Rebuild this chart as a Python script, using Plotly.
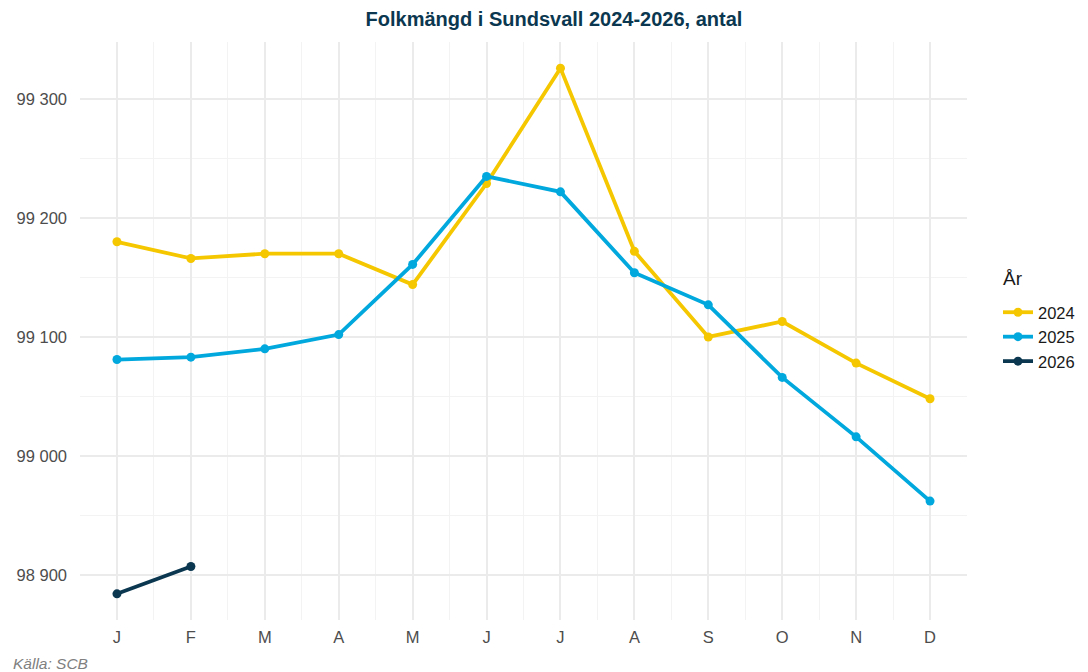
import plotly.graph_objects as go

months = ["J", "F", "M", "A", "M", "J", "J", "A", "S", "O", "N", "D"]
years = ["2024", "2025", "2026"]
v2024 = [99180, 99166, 99170, 99170, 99144, 99229, 99326, 99172, 99100, 99113, 99078, 99048]
v2025 = [99081, 99083, 99090, 99102, 99161, 99235, 99222, 99154, 99127, 99066, 99016, 98962]
v2026 = [98884, 98907]
colors = ["#F5C700", "#00A8DE", "#0B3850"]
y_ticks = [98900, 99000, 99100, 99200, 99300]
y_labels = ["98 900", "99 000", "99 100", "99 200", "99 300"]

# page body has an 8px margin, so the figure is drawn 8px smaller
W, H = 1080, 664
L, R, T, B = 72, 121, 34, 52
PW, PH = W - L - R, H - T - B

fig = go.Figure()
for yr, vals, c in zip(years, [v2024, v2025, v2026], colors):
    fig.add_trace(go.Scatter(
        x=list(range(len(vals))), y=vals, name=yr, mode="lines+markers",
        line=dict(color=c, width=3.8), marker=dict(color=c, size=9),
    ))

fig.update_layout(
    width=W, height=H,
    paper_bgcolor="white", plot_bgcolor="white",
    margin=dict(l=L, r=R, t=T, b=B),
    font=dict(family="Liberation Sans, Arial, sans-serif", color="#4D4D4D"),
    title=dict(text="<b>Folkmängd i Sundsvall 2024-2026, antal</b>",
               xref="container", x=546 / W, xanchor="center",
               y=1 - 11 / H, yanchor="middle", font=dict(size=20, color="#0B3850")),
    legend=dict(xref="container", yref="container", x=990 / W, xanchor="left",
                y=1 - 329 / H, yanchor="middle",
                font=dict(size=16.5, color="#1a1a1a"), tracegroupgap=0, itemwidth=30,
                bgcolor="rgba(0,0,0,0)"),
    showlegend=True,
)
fig.update_xaxes(
    range=[-0.5, 11.5], tickmode="array", tickvals=list(range(12)), ticktext=months,
    showgrid=True, gridcolor="#EBEBEB", gridwidth=1.6, zeroline=False,
    showline=False, ticks="", tickfont=dict(size=16.5, color="#4D4D4D"),
    ticklabelstandoff=5, automargin=False,
    minor=dict(dtick=0.5, tick0=0.5, showgrid=True, gridcolor="#F3F3F3", gridwidth=0.8),
)
fig.update_yaxes(
    range=[98862, 99348], tickmode="array", tickvals=y_ticks, ticktext=y_labels,
    showgrid=True, gridcolor="#EBEBEB", gridwidth=1.6, zeroline=False,
    showline=False, ticks="", tickfont=dict(size=16.5, color="#4D4D4D"),
    ticklabelstandoff=12, automargin=False,
    minor=dict(dtick=50, tick0=98850, showgrid=True, gridcolor="#F3F3F3", gridwidth=0.8),
)
fig.add_annotation(text="År", xref="paper", yref="paper", x=(993 - L) / PW, xanchor="left",
                   y=1 - (270 - T) / PH, yanchor="middle", showarrow=False,
                   font=dict(size=19, color="#1a1a1a"))
fig.add_annotation(text="<i>Källa: SCB</i>", xref="paper", yref="paper", x=(3 - L) / PW, xanchor="left",
                   y=-(655 - (T + PH)) / PH, yanchor="middle", showarrow=False,
                   font=dict(size=15.5, color="#808080"))
fig.write_html("out.html")
